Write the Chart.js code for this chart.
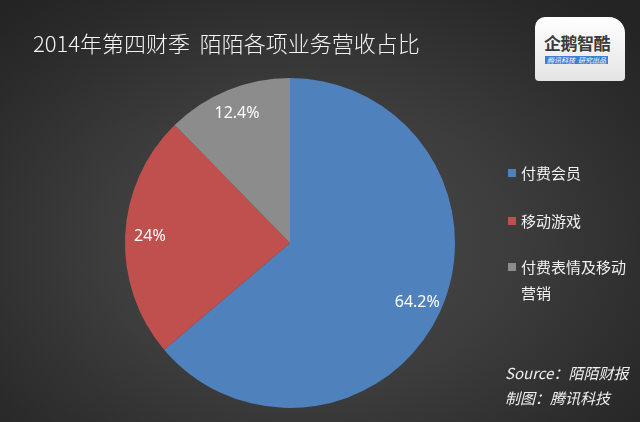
<!DOCTYPE html>
<html>
<head>
<meta charset="utf-8">
<script src="https://cdn.jsdelivr.net/npm/chart.js@4"></script>
<style>
    html, body { margin: 0; padding: 0; }
    body {
        width: 640px; height: 422px; overflow: hidden; position: relative;
        background: radial-gradient(ellipse 70% 75% at 48% 58%, #4a4a4a 0%, #3d3d3d 45%, #2a2a2a 85%, #242424 100%);
        font-family: "Noto Sans CJK SC", "Noto Sans", sans-serif;
        color: #f2f2f2;
    }
    #chart { position: absolute; left: 0; top: 0; }
    .title {
        position: absolute; left: 33px; top: 26px;
        font-size: 22px; line-height: 32px; white-space: pre; color: #f4f4f4;
        font-weight: 300;
    }
    .logo {
        position: absolute; left: 535px; top: 17px; width: 90px; height: 64px;
        border-radius: 10px 16px 4px 4px;
        background: linear-gradient(#ffffff, #e4e4e4);
    }
    .logo .name {
        position: absolute; left: 9px; top: 16px; font-size: 17px; line-height: 20px;
        font-weight: bold; color: #3a3a3a; letter-spacing: -0.5px;
    }
    .logo .bar {
        position: absolute; left: 10px; top: 39px; width: 63px; height: 8px;
        background: #3d7fd3; color: #fff; font-size: 7px; line-height: 8px;
        font-style: italic; text-align: center; white-space: pre;
    }
    .legend { position: absolute; left: 508px; top: 160px; }
    .legend .item { position: absolute; left: 0; width: 130px; font-size: 15px; line-height: 26px; white-space: nowrap; }
    .legend .box { position: absolute; left: 0; top: 9px; width: 8px; height: 8px; }
    .legend .txt { position: absolute; left: 13px; top: 0; }
    .source {
        position: absolute; left: 505px; top: 360px;
        font-size: 15px; line-height: 25px; font-style: italic; color: #f0f0f0;
    }
</style>
</head>
<body>
<canvas id="chart" width="640" height="422"></canvas>
<div class="title">2014年第四财季  陌陌各项业务营收占比</div>
<div class="logo"><div class="name">企鹅智酷</div><div class="bar">腾讯科技  研究出品</div></div>
<div class="legend" id="legend"></div>
<div class="source">Source：陌陌财报<br>制图：腾讯科技</div>
<script>
const categories = ['付费会员', '移动游戏', '付费表情及移动营销'];
const legendLines = [['付费会员'], ['移动游戏'], ['付费表情及移动', '营销']];
const shares = [64.2, 24, 12.4];
const colors = ['#4f81bd', '#c0504d', '#8c8c8c'];

// legend built from the category arrays
function buildLegend() {
    const legend = document.getElementById('legend');
    const tops = [0, 48, 94];
    categories.forEach((name, i) => {
        const item = document.createElement('div');
        item.className = 'item';
        item.style.top = tops[i] + 'px';
        const box = document.createElement('div');
        box.className = 'box';
        box.style.background = colors[i];
        const txt = document.createElement('div');
        txt.className = 'txt';
        txt.innerHTML = legendLines[i].join('<br>');
        item.appendChild(box);
        item.appendChild(txt);
        legend.appendChild(item);
    });
}
buildLegend();

// percent labels inside the slices
const sliceLabels = {
    id: 'sliceLabels',
    afterDatasetsDraw(chart) {
        const ctx = chart.ctx;
        const meta = chart.getDatasetMeta(0);
        ctx.save();
        ctx.fillStyle = '#ffffff';
        ctx.font = '16px "Noto Sans", "DejaVu Sans", sans-serif';
        ctx.textAlign = 'center';
        ctx.textBaseline = 'middle';
        meta.data.forEach((arc, i) => {
            const p = arc.getProps(['x', 'y', 'startAngle', 'endAngle', 'outerRadius'], true);
            const mid = (p.startAngle + p.endAngle) / 2;
            const r = p.outerRadius * 0.85;
            ctx.fillText(shares[i] + '%', p.x + Math.cos(mid) * r, p.y + Math.sin(mid) * r);
        });
        ctx.restore();
    }
};

const ctx = document.getElementById('chart').getContext('2d');
window.pieChart = new Chart(ctx, {
    type: 'pie',
    data: {
        labels: categories,
        datasets: [{
            data: shares,
            backgroundColor: colors,
            borderWidth: 0
        }]
    },
    options: {
        responsive: false,
        animation: false,
        layout: { padding: { left: 125, right: 185, top: 78, bottom: 14 } },
        plugins: {
            legend: { display: false },
            tooltip: { enabled: false }
        }
    },
    plugins: [sliceLabels]
});
</script>
</body>
</html>
